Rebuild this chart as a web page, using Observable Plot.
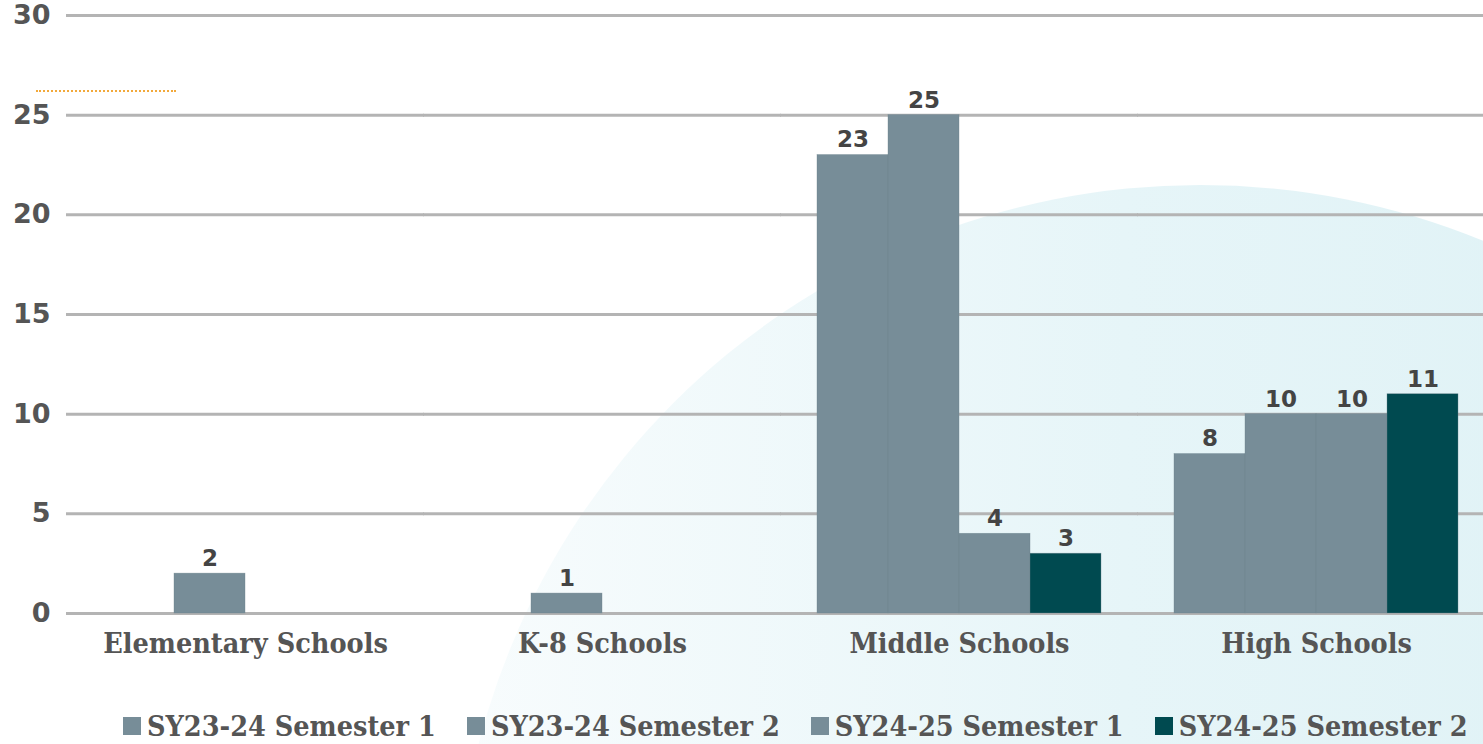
<!DOCTYPE html>
<html>
<head>
<meta charset="utf-8">
<script src="https://cdn.jsdelivr.net/npm/d3@7"></script>
<script src="https://cdn.jsdelivr.net/npm/@observablehq/plot@0.6"></script>
<style>
  html, body { margin: 0; padding: 0; width: 1483px; height: 744px; overflow: hidden; background: #fff; position: relative; }
  #bgcircle { position: absolute; left: 455px; top: 185px; width: 1490px; height: 1490px; border-radius: 50%;
    background: linear-gradient(to right, #f8fcfd 0%, #e6f5f8 45%, #dbf0f4 100%); }
  #dots { position: absolute; left: 36px; top: 90px; width: 140px; border-top: 2px dotted #f2a93b; }
  #chart { position: absolute; left: 0; top: 0; }
  #legend { position: absolute; left: 123px; top: 709px; display: flex; gap: 31px; align-items: center;
    font-family: "DejaVu Serif Condensed", "DejaVu Serif", serif; font-weight: bold; font-size: 28.5px; color: #555; }
  .item { display: flex; align-items: center; gap: 6px; white-space: nowrap; }
  .sw { width: 18px; height: 18px; display: inline-block; }
</style>
</head>
<body>
<div id="bgcircle"></div>
<div id="dots"></div>
<div id="chart"></div>
<div id="legend"></div>
<script>
const categories = ["Elementary Schools", "K-8 Schools", "Middle Schools", "High Schools"];
const seriesNames = ["SY23-24 Semester 1", "SY23-24 Semester 2", "SY24-25 Semester 1", "SY24-25 Semester 2"];
const seriesColors = ["#778d98", "#778d98", "#778d98", "#004a50"];
const sy2324s1 = [null, null, 23, 8];
const sy2324s2 = [2, 1, 25, 10];
const sy2425s1 = [null, null, 4, 10];
const sy2425s2 = [null, null, 3, 11];
const yTicks = [0, 5, 10, 15, 20, 25, 30];

const seriesValues = [sy2324s1, sy2324s2, sy2425s1, sy2425s2];
const data = [];
categories.forEach((c, i) => {
  seriesNames.forEach((s, j) => {
    data.push({category: c, series: s, value: seriesValues[j][i]});
  });
});
const labeled = data.filter(d => d.value != null && d.value > 0);

const plot = Plot.plot({
  width: 1483,
  height: 700,
  marginLeft: 100,
  marginRight: 23,
  marginTop: 15,
  marginBottom: 87,
  style: {background: "transparent", overflow: "visible"},
  fx: {domain: categories, paddingInner: 0.2, paddingOuter: 0, label: null},
  x: {domain: seriesNames, padding: 0, axis: null},
  y: {domain: [0, 30], label: null},
  color: {domain: seriesNames, range: seriesColors},
  marks: [
    Plot.ruleY(yTicks, {stroke: "#b4b4b4", strokeWidth: 3, insetLeft: -36, insetRight: -36}),
    Plot.barY(data.filter(d => d.value != null), {fx: "category", x: "series", y: "value", fill: "series", stroke: "#6e838e", strokeWidth: 0.6, strokeOpacity: 0.6}),
    Plot.text(labeled, {fx: "category", x: "series", y: "value", text: d => String(d.value), dy: -15,
      fontFamily: "DejaVu Sans", fontWeight: "bold", fontSize: 23, fill: "#444"}),
    Plot.axisY({ticks: yTicks, tickSize: 0, tickPadding: 52, label: null, tickFormat: d => String(d),
      fontFamily: "DejaVu Sans", fontWeight: "bold", fontSize: 27, fill: "#555"}),
    Plot.axisFx({anchor: "bottom", tickSize: 0, tickPadding: 19, label: null,
      fontFamily: "DejaVu Serif Condensed, DejaVu Serif", fontWeight: "bold", fontSize: 28.5, fill: "#555"})
  ]
});
document.getElementById("chart").appendChild(plot);

const legend = document.getElementById("legend");
seriesNames.forEach((s, i) => {
  const it = document.createElement("div");
  it.className = "item";
  const sw = document.createElement("span");
  sw.className = "sw";
  sw.style.background = seriesColors[i];
  const t = document.createElement("span");
  t.textContent = s;
  it.appendChild(sw); it.appendChild(t);
  legend.appendChild(it);
});
</script>
</body>
</html>
